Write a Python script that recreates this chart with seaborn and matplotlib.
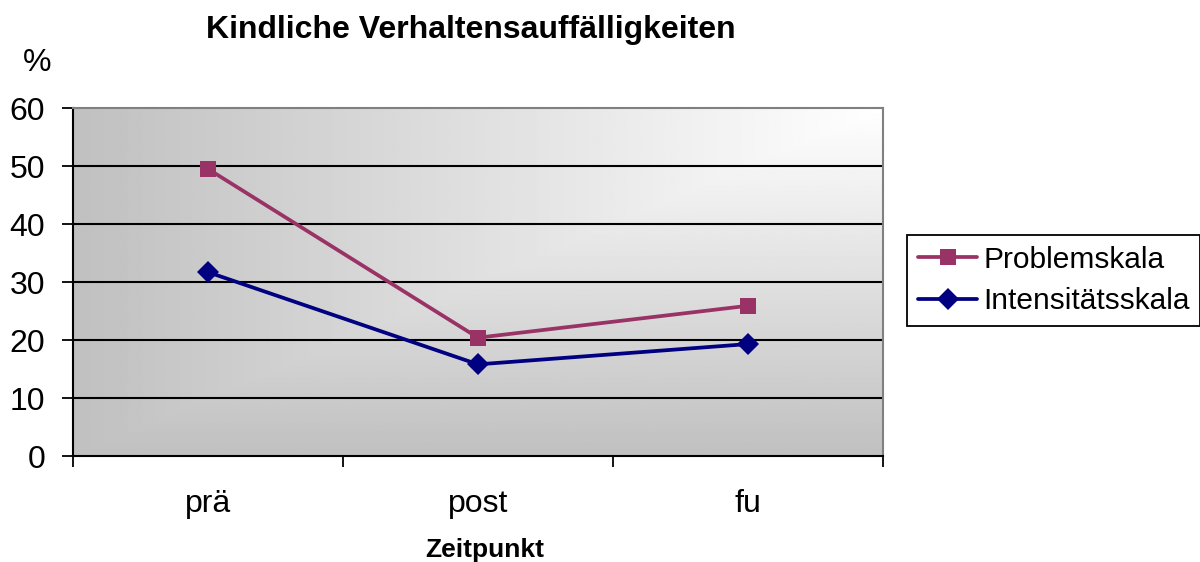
import numpy as np
import pandas as pd
import matplotlib
matplotlib.use("Agg")
import matplotlib.pyplot as plt
import seaborn as sns

# Daten
zeitpunkte = ["prä", "post", "fu"]
problemskala = [49.5, 20.4, 25.9]
intensitaetsskala = [31.7, 15.8, 19.3]

df = pd.DataFrame({
    "Zeitpunkt": zeitpunkte * 2,
    "Wert": problemskala + intensitaetsskala,
    "Skala": ["Problemskala"] * 3 + ["Intensitätsskala"] * 3,
})

sns.set_style("white")
plt.rcParams["font.family"] = ["Liberation Sans", "DejaVu Sans"]
plt.rcParams["text.color"] = "black"
plt.rcParams["xtick.color"] = "black"
plt.rcParams["ytick.color"] = "black"

fig = plt.figure(figsize=(12, 5.62), dpi=100)
ax = fig.add_axes([0.0608, 0.1886, 0.675, 0.6192])

# Hintergrund: Verlauf von der oberen rechten Ecke (wie Excel)
u = np.linspace(0, 1, 400)
v = np.linspace(0, 1, 300)
U, V = np.meshgrid(u, v)
d = np.maximum(1 - U, 1 - V)
gray = (255 - 63 * d) / 255
ax.imshow(gray, cmap="gray", vmin=0, vmax=1, origin="lower",
          extent=[-0.5, 2.5, 0, 60], aspect="auto", zorder=0)

for y in range(10, 60, 10):
    ax.axhline(y, color="black", lw=1.5, zorder=1)

sns.lineplot(data=df, x="Zeitpunkt", y="Wert", hue="Skala", style="Skala",
             palette={"Problemskala": "#993366", "Intensitätsskala": "#000080"},
             markers={"Problemskala": "s", "Intensitätsskala": "D"},
             dashes=False, lw=2.7, markersize=11, markeredgewidth=0,
             ax=ax, zorder=3)

ax.set_xlim(-0.5, 2.5)
ax.set_ylim(0, 60)
ax.set_yticks(range(0, 61, 10))
ax.set_xticks([-0.5, 0.5, 1.5, 2.5])
ax.set_xticklabels([])
ax.set_xticks([0, 1, 2], minor=True)
ax.set_xticklabels(zeitpunkte, minor=True)
ax.tick_params(axis="x", which="major", direction="out", length=8, width=1.3,
               color="black", bottom=True)
ax.tick_params(axis="x", which="minor", length=0, pad=24, labelsize=23)
ax.tick_params(axis="y", direction="out", length=8, width=1.3, color="black",
               left=True, labelsize=23, pad=12)
ax.set_xlabel("")
ax.set_ylabel("")

for s in ["left", "bottom"]:
    ax.spines[s].set_color("black")
    ax.spines[s].set_linewidth(1.5)
for s in ["top", "right"]:
    ax.spines[s].set_color("#808080")
    ax.spines[s].set_linewidth(1.5)

fig.text(0.392, 0.947, "Kindliche Verhaltensauffälligkeiten", ha="center",
         va="center", fontsize=23, fontweight="bold")
fig.text(0.031, 0.888, "%", ha="center", va="center", fontsize=23)
fig.text(0.404, 0.022, "Zeitpunkt", ha="center", va="center", fontsize=19,
         fontweight="bold")

handles, labels = ax.get_legend_handles_labels()
leg = ax.legend(handles, labels, loc="center left", bbox_to_anchor=(0.756, 0.501),
                bbox_transform=fig.transFigure, frameon=True, fancybox=False,
                edgecolor="black", framealpha=1, fontsize=21.5, handlelength=2.0,
                handletextpad=0.2, borderpad=0.35, labelspacing=0.45,
                borderaxespad=0)
leg.get_frame().set_linewidth(1.3)

fig.savefig("out.png", dpi=100)
